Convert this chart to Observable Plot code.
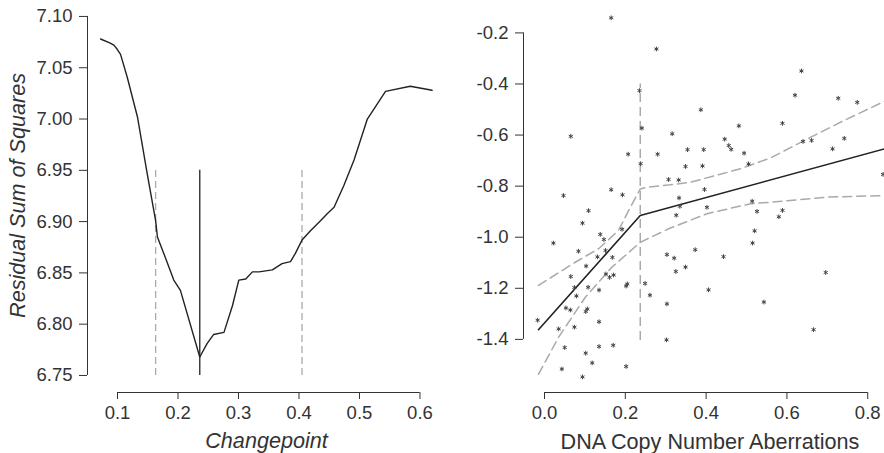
<!DOCTYPE html>
<html><head><meta charset="utf-8">
<script src="https://cdn.jsdelivr.net/npm/d3@7"></script>
<script src="https://cdn.jsdelivr.net/npm/@observablehq/plot@0.6"></script>
<style>
html,body{margin:0;padding:0;background:#fff;}
#wrap{display:flex;width:884px;height:453px;overflow:hidden;}
#wrap svg{display:block;flex:none;}
</style></head><body><div id="wrap"></div>
<script>
// ---- Left panel: residual sum of squares by changepoint ----
const cpX = [0.072, 0.088, 0.094, 0.0995, 0.105, 0.116, 0.133, 0.149, 0.163, 0.166, 0.1765, 0.193, 0.204, 0.236, 0.248, 0.259, 0.276, 0.290, 0.3005, 0.312, 0.323, 0.334, 0.356, 0.372, 0.386, 0.394, 0.405, 0.419, 0.436, 0.447, 0.458, 0.474, 0.491, 0.513, 0.543, 0.584, 0.620];
const cpRSS = [7.078, 7.074, 7.072, 7.068, 7.063, 7.041, 7.002, 6.947, 6.901, 6.885, 6.869, 6.843, 6.833, 6.768, 6.781, 6.790, 6.792, 6.818, 6.843, 6.844, 6.851, 6.851, 6.853, 6.859, 6.861, 6.869, 6.882, 6.891, 6.901, 6.908, 6.914, 6.935, 6.960, 7.000, 7.027, 7.032, 7.028];
const cpBest = [0.236];
const cpBounds = [0.163, 0.405];
const cpRuleRange = [6.75, 6.95];
const rssTicksY = [6.75, 6.80, 6.85, 6.90, 6.95, 7.00, 7.05, 7.10];
const rssTicksX = [0.1, 0.2, 0.3, 0.4, 0.5, 0.6];

// ---- Right panel: scatter with segmented fit ----
const cnaX = [0.165, 0.277, 0.235, 0.241, 0.065, 0.207, 0.280, 0.238, 0.307, 0.047, 0.165, 0.193, 0.109, 0.094, 0.192, 0.138, 0.147, 0.022, 0.084, 0.151, 0.303, 0.131, 0.168, 0.103, 0.065, 0.152, 0.161, 0.171, 0.205, 0.202, 0.249, 0.074, 0.108, 0.135, 0.261, 0.079, 0.303, 0.053, 0.064, 0.106, 0.102, -0.017, 0.135, 0.035, 0.074, 0.302, 0.050, 0.135, 0.170, 0.102, 0.118, 0.202, 0.043, 0.094,
  0.387, 0.481, 0.316, 0.446, 0.456, 0.462, 0.354, 0.394, 0.494, 0.349, 0.391, 0.505, 0.332, 0.396, 0.333, 0.335, 0.402, 0.514, 0.326, 0.526, 0.520, 0.515, 0.373, 0.321, 0.443, 0.349, 0.325, 0.406, 0.543,
  0.636, 0.620, 0.727, 0.774, 0.589, 0.640, 0.661, 0.742, 0.713, 0.838, 0.589, 0.580, 0.696, 0.666];
const cnaY = [-0.141, -0.263, -0.426, -0.573, -0.605, -0.675, -0.675, -0.712, -0.774, -0.837, -0.814, -0.834, -0.896, -0.945, -0.969, -0.989, -1.009, -1.023, -1.055, -1.052, -1.068, -1.077, -1.079, -1.113, -1.154, -1.144, -1.157, -1.148, -1.183, -1.191, -1.181, -1.197, -1.196, -1.207, -1.227, -1.230, -1.261, -1.277, -1.285, -1.281, -1.291, -1.325, -1.331, -1.359, -1.352, -1.402, -1.432, -1.428, -1.423, -1.454, -1.492, -1.506, -1.516, -1.547,
  -0.501, -0.564, -0.595, -0.616, -0.641, -0.656, -0.657, -0.657, -0.671, -0.723, -0.721, -0.713, -0.776, -0.813, -0.846, -0.879, -0.883, -0.859, -0.914, -0.899, -0.975, -1.023, -1.049, -1.082, -1.076, -1.117, -1.134, -1.206, -1.254,
  -0.349, -0.444, -0.456, -0.472, -0.554, -0.625, -0.621, -0.613, -0.654, -0.754, -0.895, -0.920, -1.138, -1.362];
const fitX = [-0.015, 0.237, 0.8415];
const fitY = [-1.362, -0.915, -0.654];
const upX = [-0.015, 0.076, 0.134, 0.183, 0.208, 0.237, 0.254, 0.311, 0.361, 0.485, 0.559, 0.642, 0.741, 0.8415];
const upY = [-1.189, -1.098, -1.045, -0.974, -0.896, -0.811, -0.804, -0.795, -0.785, -0.732, -0.690, -0.622, -0.543, -0.468];
const loX = [-0.015, 0.035, 0.101, 0.167, 0.237, 0.307, 0.402, 0.510, 0.559, 0.700, 0.8415];
const loY = [-1.537, -1.391, -1.235, -1.117, -1.020, -0.967, -0.908, -0.869, -0.863, -0.843, -0.837];
const cnaBreak = [0.237];
const cnaBreakRange = [-1.404, -0.400];
const cnaTicksY = [-1.4, -1.2, -1.0, -0.8, -0.6, -0.4, -0.2];
const cnaTicksX = [0.0, 0.2, 0.4, 0.6, 0.8];

const font = "'Liberation Sans', Arial, Helvetica, sans-serif";
const tickFont = 18.5;
const zip = (xs, ys) => xs.map((x, i) => ({x, y: ys[i]}));

const left = Plot.plot({
  width: 450, height: 453,
  marginLeft: 87, marginRight: 5, marginTop: 2, marginBottom: 61,
  style: {fontFamily: font, fontSize: "18px", color: "#333", background: "#fff", overflow: "visible"},
  x: {domain: [0.0504, 0.6422]},
  y: {domain: [6.7334, 7.1136]},
  marks: [
    Plot.axisY(rssTicksY, {tickSize: 8, tickPadding: 7, tickFormat: d => d.toFixed(2), label: null, fontSize: tickFont}),
    Plot.axisX(rssTicksX, {tickSize: 7, tickPadding: 6, tickFormat: d => d.toFixed(1), label: null, fontSize: tickFont}),
    Plot.ruleX([0.0504], {y1: rssTicksY[0], y2: rssTicksY[rssTicksY.length - 1], stroke: "#333"}),
    Plot.ruleY([6.7334], {x1: rssTicksX[0], x2: rssTicksX[rssTicksX.length - 1], stroke: "#333"}),
    Plot.ruleX(cpBounds, {y1: cpRuleRange[0], y2: cpRuleRange[1], stroke: "#aaa", strokeWidth: 1.3, strokeDasharray: "7,4"}),
    Plot.ruleX(cpBest, {y1: cpRuleRange[0], y2: cpRuleRange[1], stroke: "#222", strokeWidth: 1.3}),
    Plot.line(zip(cpX, cpRSS), {x: "x", y: "y", stroke: "#222", strokeWidth: 1.4}),
    Plot.text(["Changepoint"], {frameAnchor: "bottom", dy: 55.5, lineAnchor: "bottom", fontStyle: "italic", fontSize: 21.6, fill: "#333"}),
    Plot.text(["Residual Sum of Squares"], {frameAnchor: "left", textAnchor: "middle", rotate: -90, dx: -63, dy: -2, lineAnchor: "bottom", fontStyle: "italic", fontSize: 21.6, fill: "#333"})
  ]
});

const right = Plot.plot({
  width: 434, height: 453,
  marginLeft: 73, marginRight: 0, marginTop: 2, marginBottom: 61,
  style: {fontFamily: font, fontSize: "18px", color: "#333", background: "#fff", overflow: "visible"},
  x: {domain: [-0.052, 0.8415]},
  y: {domain: [-1.608, -0.081]},
  marks: [
    Plot.axisY(cnaTicksY, {tickSize: 8, tickPadding: 7, tickFormat: d => d.toFixed(1), label: null, fontSize: tickFont}),
    Plot.axisX(cnaTicksX, {tickSize: 7, tickPadding: 6, tickFormat: d => d.toFixed(1), label: null, fontSize: tickFont}),
    Plot.ruleX([-0.052], {y1: cnaTicksY[0], y2: cnaTicksY[cnaTicksY.length - 1], stroke: "#333"}),
    Plot.ruleY([-1.608], {x1: cnaTicksX[0], x2: cnaTicksX[cnaTicksX.length - 1], stroke: "#333"}),
    Plot.ruleX(cnaBreak, {y1: cnaBreakRange[0], y2: cnaBreakRange[1], stroke: "#aaa", strokeWidth: 1.5, strokeDasharray: "9,5"}),
    Plot.line(zip(upX, upY), {x: "x", y: "y", stroke: "#aaa", strokeWidth: 1.5, strokeDasharray: "9,5"}),
    Plot.line(zip(loX, loY), {x: "x", y: "y", stroke: "#aaa", strokeWidth: 1.5, strokeDasharray: "9,5"}),
    Plot.line(zip(fitX, fitY), {x: "x", y: "y", stroke: "#222", strokeWidth: 1.6}),
    Plot.dot(zip(cnaX, cnaY), {x: "x", y: "y", symbol: "asterisk", r: 2.2, stroke: "#444", strokeWidth: 1}),
    Plot.text(["DNA Copy Number Aberrations"], {frameAnchor: "bottom", dx: 6, dy: 56, lineAnchor: "bottom", fontSize: 21.6, fill: "#333"})
  ]
});

document.getElementById("wrap").append(left, right);
</script>
</body></html>
